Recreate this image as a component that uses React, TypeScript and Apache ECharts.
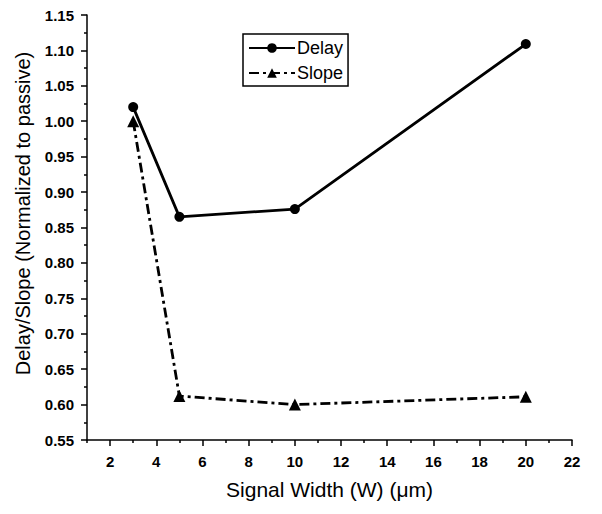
import React, { useEffect, useRef } from "react";
import * as echarts from "echarts";

const widths = [3, 5, 10, 20];
const delayValues = [1.02, 0.865, 0.876, 1.109];
const slopeValues = [1.0, 0.612, 0.6, 0.611];
const xMajorTicks = [2, 4, 6, 8, 10, 12, 14, 16, 18, 20, 22];
const xMinorTicks = [1, 3, 5, 7, 9, 11, 13, 15, 17, 19, 21];

export default function App() {
  const ref = useRef<HTMLDivElement>(null);
  useEffect(() => {
    document.body.style.margin = "0";
    const chart = echarts.init(ref.current!, undefined, { renderer: "svg" });
    const font = "'Liberation Sans', Arial, sans-serif";
    chart.setOption({
      animation: false,
      backgroundColor: "#fff",
      grid: { left: 87, right: 30, top: 15, bottom: 74, containLabel: false },
      legend: {
        orient: "vertical",
        left: 243,
        top: 34,
        padding: [5, 5, 4, 5],
        itemWidth: 46,
        itemHeight: 12,
        itemGap: 7,
        borderColor: "#000",
        borderWidth: 1.5,
        textStyle: { fontFamily: font, fontSize: 18, color: "#000", padding: [0, 0, 0, -3] },
        data: ["Delay", "Slope"],
      },
      xAxis: [
        {
          type: "value",
          min: 1,
          max: 22,
          splitLine: { show: false },
          axisLine: { lineStyle: { color: "#000", width: 1.5 } },
          axisTick: { customValues: xMajorTicks, length: 6, lineStyle: { color: "#000", width: 1.5 } },
          axisLabel: {
            customValues: xMajorTicks,
            margin: 14,
            fontFamily: font,
            fontWeight: "bold",
            fontSize: 15,
            color: "#000",
          },
          name: "Signal Width (W) (\u03bcm)",
          nameLocation: "middle",
          nameGap: 39,
          nameTextStyle: { fontFamily: font, fontSize: 21, color: "#000" },
        },
        {
          type: "value",
          min: 1,
          max: 22,
          position: "bottom",
          splitLine: { show: false },
          axisLine: { show: false },
          axisTick: { customValues: xMinorTicks, length: 3, lineStyle: { color: "#000", width: 1.5 } },
          axisLabel: { show: false },
        },
      ],
      yAxis: {
        type: "value",
        min: 0.55,
        max: 1.15,
        interval: 0.05,
        splitLine: { show: false },
        axisLine: { show: true, lineStyle: { color: "#000", width: 1.5 } },
        axisTick: { show: true, length: 6, lineStyle: { color: "#000", width: 1.5 } },
        minorTick: { show: true, splitNumber: 2, length: 3, lineStyle: { color: "#000", width: 1.5 } },
        axisLabel: {
          margin: 13,
          fontFamily: font,
          fontWeight: "bold",
          fontSize: 15,
          color: "#000",
          formatter: (v: number) => v.toFixed(2),
        },
        name: "Delay/Slope (Normalized to passive)",
        nameLocation: "middle",
        nameGap: 54,
        nameTextStyle: { fontFamily: font, fontSize: 20, color: "#000", padding: [0, 0, 0, 28] },
      },
      series: [
        {
          name: "Delay",
          type: "line",
          data: widths.map((w, i) => [w, delayValues[i]]),
          symbol: "circle",
          symbolSize: 10,
          itemStyle: { color: "#000" },
          lineStyle: { color: "#000", width: 2.8 },
        },
        {
          name: "Slope",
          type: "line",
          data: widths.map((w, i) => [w, slopeValues[i]]),
          symbol: "triangle",
          symbolSize: 12,
          itemStyle: { color: "#000" },
          lineStyle: { color: "#000", width: 2.8, type: [10, 4, 3, 4] },
        },
      ],
    });
    return () => chart.dispose();
  }, []);
  return <div ref={ref} style={{ width: 602, height: 514 }} />;
}
